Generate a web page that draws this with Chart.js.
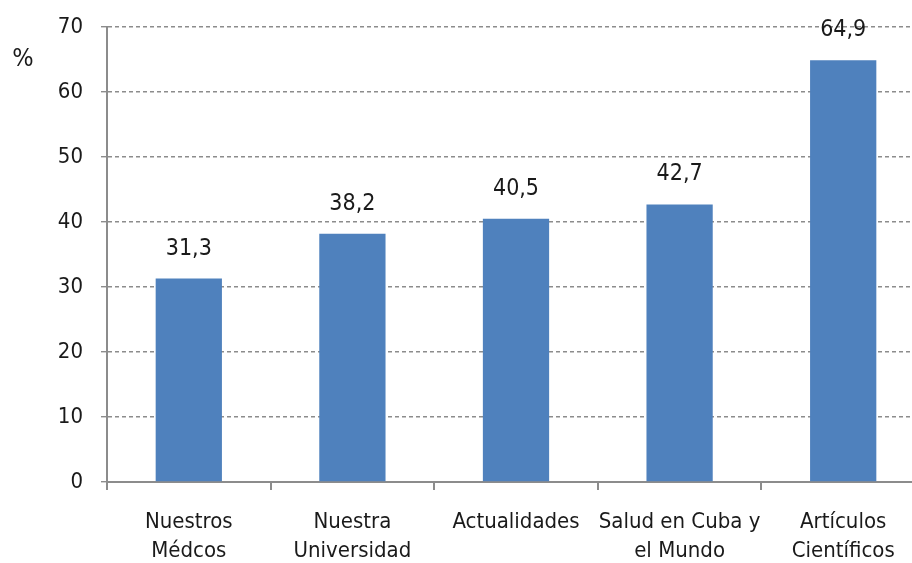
<!DOCTYPE html>
<html>
<head>
<meta charset="utf-8">
<script src="https://cdn.jsdelivr.net/npm/chart.js@4"></script>
<style>
  html, body { margin: 0; padding: 0; overflow: hidden; background: #fff; }
  #wrap { width: 925px; height: 563px; }
</style>
</head>
<body>
<div id="wrap"><canvas id="myChart" width="925" height="563"></canvas></div>
<script>
var categories = [["Nuestros", "Médcos"], ["Nuestra", "Universidad"], "Actualidades", ["Salud en Cuba y", "el Mundo"], ["Artículos", "Científicos"]];
var values = [31.3, 38.2, 40.5, 42.7, 64.9];
var yMin = 0, yMax = 70, yStep = 10;

var textColor = "#1a1a1a";
var gridColor = "#8c8c8c";
var fontName = "'DejaVu Sans Condensed', 'DejaVu Sans'";

// draws the value on top of each bar and the "%" unit label
var barLabels = {
    id: "barLabels",
    afterDatasetsDraw: function (chart) {
        var ctx = chart.ctx;
        var meta = chart.getDatasetMeta(0);
        ctx.save();
        ctx.font = "23px " + fontName;
        ctx.fillStyle = textColor;
        ctx.textAlign = "center";
        ctx.textBaseline = "middle";
        meta.data.forEach(function (bar, i) {
            ctx.fillText(values[i].toString().replace(".", ","), bar.x, bar.y - 30);
        });
        ctx.font = "25px " + fontName;
        ctx.fillText("%", 23, 59);
        ctx.restore();
    }
};

var ctx = document.getElementById('myChart').getContext('2d');
var chart = new Chart(ctx, {
    type: 'bar',
    data: {
        labels: categories,
        datasets: [{
            data: values,
            backgroundColor: "#4f81bd",
            borderWidth: 0,
            barPercentage: 0.81,
            categoryPercentage: 0.5
        }]
    },
    plugins: [barLabels],
    options: {
        responsive: false,
        animation: false,
        layout: { padding: { top: 27, right: 0, left: 0, bottom: 0 } },
        plugins: {
            legend: { display: false },
            tooltip: { enabled: false }
        },
        scales: {
            y: {
                min: yMin,
                max: yMax,
                afterFit: function (s) {
                    s.width = 107;
                    s.paddingTop = 0;
                    s.paddingBottom = 0;
                },
                ticks: {
                    stepSize: yStep,
                    color: textColor,
                    font: { family: fontName, size: 22 },
                    padding: 18
                },
                border: { display: true, color: gridColor, width: 2, dash: [4, 3] },
                grid: {
                    color: gridColor,
                    lineWidth: 1.4,
                    tickLength: 6,
                    tickColor: gridColor,
                    tickBorderDash: []
                }
            },
            x: {
                afterFit: function (s) { s.height = 81; },
                ticks: {
                    color: textColor,
                    font: { family: fontName, size: 22, lineHeight: "29px" },
                    padding: 18,
                    maxRotation: 0,
                    autoSkip: false
                },
                border: { display: true, color: gridColor, width: 2 },
                grid: {
                    offset: true,
                    drawOnChartArea: false,
                    drawTicks: true,
                    tickLength: 8,
                    color: gridColor,
                    lineWidth: 2
                }
            }
        }
    }
});
</script>
</body>
</html>
